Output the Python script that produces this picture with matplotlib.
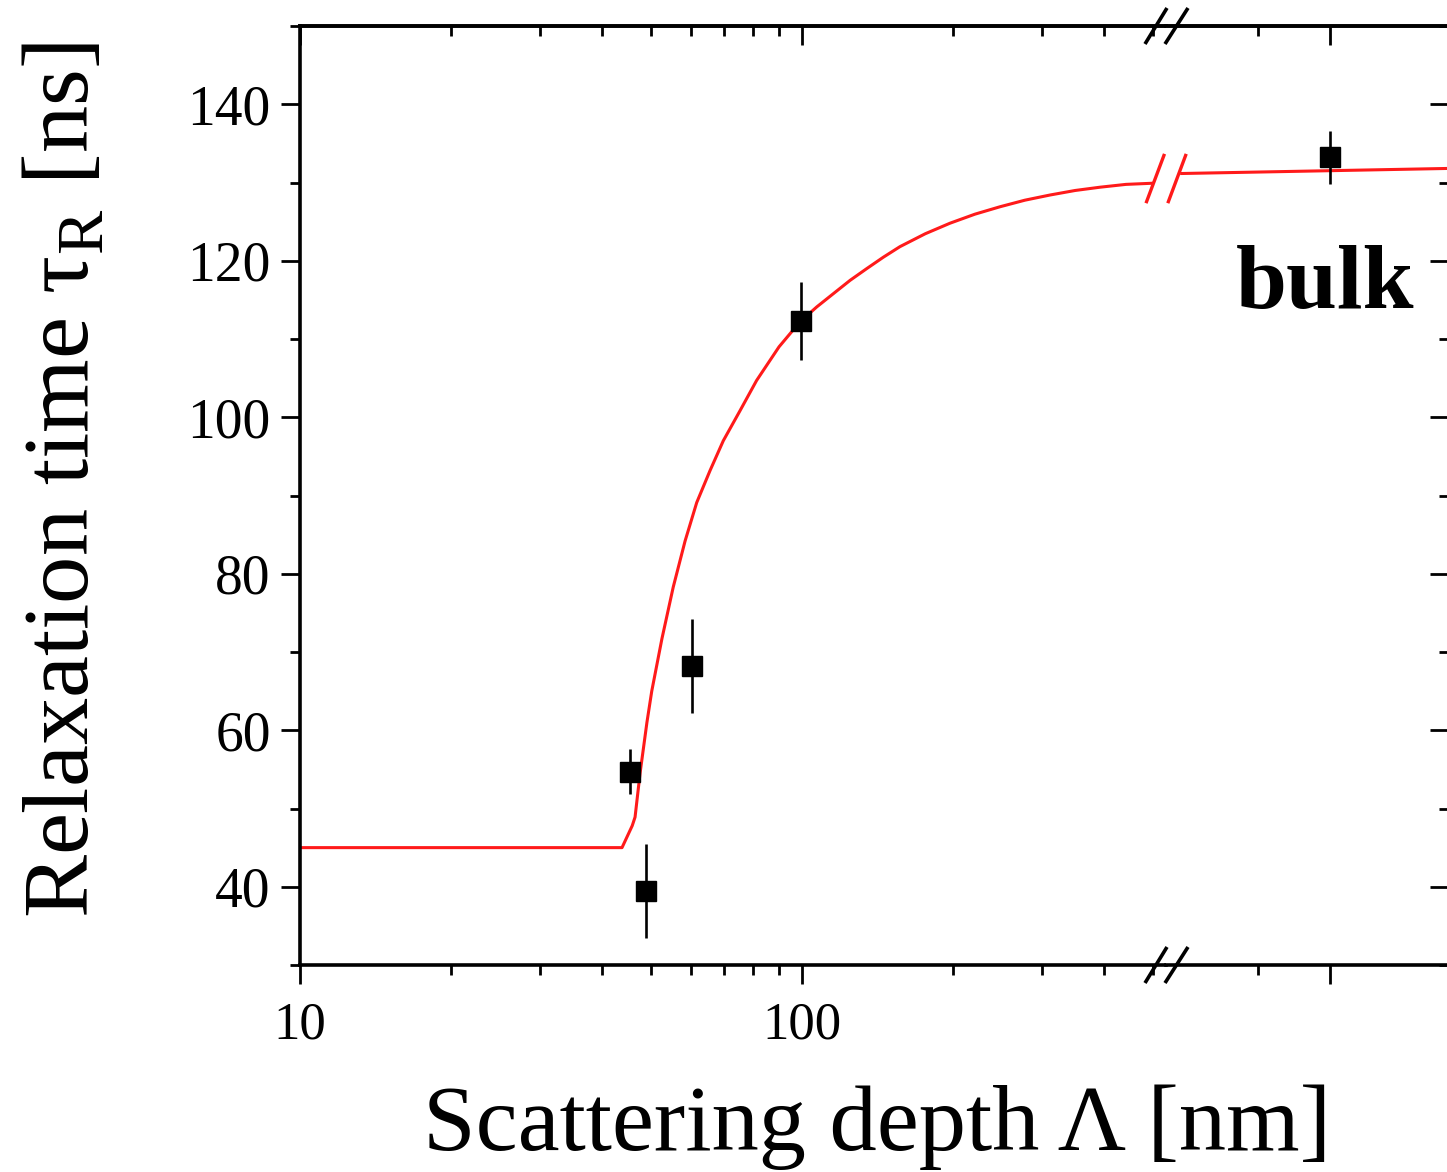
import numpy as np
import matplotlib
matplotlib.use('Agg')
import matplotlib.pyplot as plt
from matplotlib.ticker import FixedLocator, NullFormatter, LogLocator
from matplotlib.transforms import ScaledTranslation, blended_transform_factory

plt.rcParams['font.family'] = ['Liberation Serif', 'DejaVu Serif']
plt.rcParams['mathtext.fontset'] = 'custom'
plt.rcParams['mathtext.rm'] = 'Liberation Serif'

# measured points (scattering depth in nm)
depth = [45.4, 48.9, 60.4, 99.5]
tau = [54.7, 39.5, 68.2, 112.3]
tau_err = [2.9, 6.0, 6.0, 5.0]

# bulk value, drawn on the separate right-hand segment
bulk_pos = 2.0
bulk_tau = 133.2
bulk_err = 3.4

# fit curve
fit_depth = [10, 43.8, 45.9, 46.5, 47.6, 49.1, 50.2, 52.6, 55.4, 58.5, 61.7, 65.6,
             69.7, 75.2, 81.2, 90, 99.1, 107, 115.5, 124.7, 134.6, 145.2, 156.7,
             176, 197.2, 221, 248, 278, 311.9, 350, 392.5, 442, 497]
fit_tau = [45.0, 45.0, 47.8, 48.9, 54.6, 61.0, 65.0, 71.7, 78.3, 84.2, 89.1, 93.2,
           97.0, 100.8, 104.7, 109.0, 112.2, 114.1, 115.8, 117.5, 119.0, 120.45, 121.8,
           123.45, 124.8, 125.95, 126.9, 127.74, 128.4, 128.98, 129.4, 129.76, 129.9]
fit_bulk_x = [-0.06, 3.66]
fit_bulk_tau = [131.15, 131.8]

W, H = 1447, 1172
fig = plt.figure(figsize=(W / 100, H / 100), dpi=100)

x_break = 1166
ax = fig.add_axes([300 / W, 1 - 965 / H, (x_break - 300) / W, (965 - 26) / H])
ax2 = fig.add_axes([x_break / W, 1 - 965 / H, (1449 - x_break) / W, (965 - 26) / H])

red = '#ff1a1a'
lw_spine = 2.6

# left (log) segment
ax.plot(fit_depth, fit_tau, color=red, lw=2.2, zorder=2)
ax.errorbar(depth, tau, yerr=tau_err, fmt='s', color='black', ms=14, elinewidth=1.9,
            capsize=0, zorder=3)
ax.set_xscale('log')
ax.set_xlim(10, 10 ** (1 + (x_break - 300) / 502))
ax.set_ylim(30, 150)

# right (bulk) segment
ax2.plot(fit_bulk_x, fit_bulk_tau, color=red, lw=2.2, zorder=2, clip_on=False)
ax2.errorbar([bulk_pos], [bulk_tau], yerr=[bulk_err], fmt='s', color='black', ms=14,
             elinewidth=1.9, capsize=0, zorder=3)
ax2.set_xlim((x_break - 1186) / 72, (1449 - 1186) / 72)
ax2.set_ylim(30, 150)
ax2.text(bulk_pos - 0.07, 114, 'bulk', ha='center', va='baseline', fontsize=66,
         fontweight='bold')

for a in (ax, ax2):
    for s in a.spines.values():
        s.set_linewidth(lw_spine)
ax.spines['right'].set_visible(False)
ax2.spines['left'].set_visible(False)

# ticks, left axes
ax.xaxis.set_major_locator(FixedLocator([10, 100]))
ax.xaxis.set_minor_locator(LogLocator(base=10, subs=np.arange(2, 10)))
ax.xaxis.set_major_formatter(matplotlib.ticker.FixedFormatter(['10', '100']))
ax.xaxis.set_minor_formatter(NullFormatter())
ax.yaxis.set_major_locator(FixedLocator(np.arange(40, 141, 20)))
ax.yaxis.set_minor_locator(FixedLocator(np.arange(30, 151, 20)))
ax.tick_params(axis='x', which='both', bottom=True, top=False, direction='out',
               labelsize=38, pad=12)
ax.tick_params(axis='y', which='both', left=True, right=False, direction='out',
               labelsize=40, pad=7)
ax.tick_params(which='major', length=14, width=2.0)
ax.tick_params(which='minor', length=7.5, width=2.0)

# top ticks point inward
axt = ax.secondary_xaxis('top')
axt.xaxis.set_major_locator(FixedLocator([10, 100]))
axt.xaxis.set_minor_locator(LogLocator(base=10, subs=np.arange(2, 10)))
axt.xaxis.set_major_formatter(NullFormatter())
axt.xaxis.set_minor_formatter(NullFormatter())
axt.tick_params(which='both', direction='in', width=2.0)
axt.tick_params(which='major', length=14)
axt.tick_params(which='minor', length=7.5)
axt.spines['top'].set_linewidth(lw_spine)

# ticks, right axes
ax2.xaxis.set_major_locator(FixedLocator([bulk_pos]))
ax2.xaxis.set_minor_locator(FixedLocator([bulk_pos - 1]))
ax2.xaxis.set_major_formatter(NullFormatter())
ax2.yaxis.set_major_locator(FixedLocator(np.arange(40, 141, 20)))
ax2.yaxis.set_minor_locator(FixedLocator(np.arange(30, 151, 20)))
ax2.yaxis.set_major_formatter(NullFormatter())
ax2.tick_params(axis='x', which='both', bottom=True, top=False, direction='out')
ax2.tick_params(axis='y', which='both', left=False, right=True, direction='in')
ax2.tick_params(which='major', length=14, width=2.0)
ax2.tick_params(which='minor', length=7.5, width=2.0)
ax2t = ax2.secondary_xaxis('top')
ax2t.xaxis.set_major_locator(FixedLocator([bulk_pos]))
ax2t.xaxis.set_minor_locator(FixedLocator([bulk_pos - 1]))
ax2t.xaxis.set_major_formatter(NullFormatter())
ax2t.tick_params(which='both', direction='in', width=2.0)
ax2t.tick_params(which='major', length=14)
ax2t.tick_params(which='minor', length=7.5)
ax2t.spines['top'].set_linewidth(lw_spine)

# break marks (offsets in px/100 from the break point)
def slashes(yref, trans_y, segs, color, lw):
    base = blended_transform_factory(ax2.transAxes, trans_y)
    tr = fig.dpi_scale_trans + ScaledTranslation(0, yref, base)
    for (x0, y0, x1, y1) in segs:
        fig.add_artist(plt.Line2D([x0 / 100, x1 / 100], [y0 / 100, y1 / 100],
                                  transform=tr, color=color, lw=lw,
                                  solid_capstyle='butt'))

axis_segs = [(-21, -18, 1, 18), (-1, -18, 22, 18)]
slashes(0, ax2.transAxes, axis_segs, 'black', 2.6)
slashes(1, ax2.transAxes, axis_segs, 'black', 2.6)
red_segs = [(-20, -24.6, -1.5, 24.7), (1.8, -24.6, 20.2, 24.7)]
slashes(130.5, ax2.transData, red_segs, red, 2.4)

fig.text(877 / W, 1 - 1150 / H, 'Scattering depth \u039b [nm]', ha='center',
         va='baseline', fontsize=68)
fig.text(66 / W, 1 - 480 / H, 'Relaxation time \u03c4$_\\mathregular{R}$ [ns]',
         rotation=90, ha='center', va='center', fontsize=68)

fig.savefig('out.png', dpi=100)
